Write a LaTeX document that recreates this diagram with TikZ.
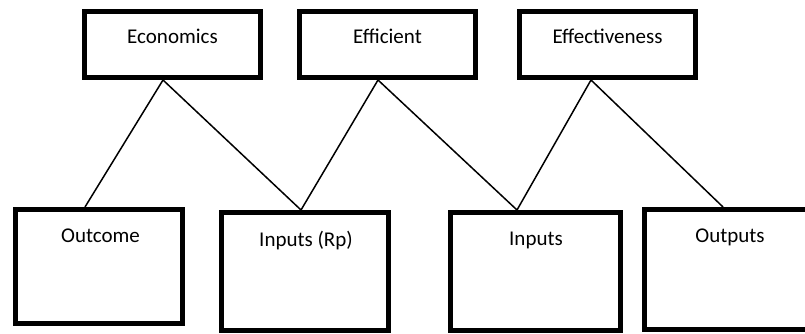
\documentclass[tikz,border=0pt]{standalone}
\usepackage{fontspec}
\setmainfont{Carlito}
\begin{document}
\begin{tikzpicture}[x=1pt,y=-1pt,
  box/.style={draw=black,line width=4.7pt,rectangle,inner sep=0pt,fill=white},
  lbl/.style={anchor=base,inner sep=0pt,font=\fontsize{21}{25}\selectfont},
  link/.style={draw=black,line width=1.5pt}]
\useasboundingbox (0,0) rectangle (805,334);
\clip (0,0) rectangle (805,334);
% top row
\node[box,minimum width=176.3pt,minimum height=66.3pt] (econ) at (172.5,44.5) {};
\node[box,minimum width=176.3pt,minimum height=66.3pt] (eff)  at (387.5,44.5) {};
\node[box,minimum width=176.3pt,minimum height=66.3pt] (effv) at (607.5,44.5) {};
% bottom row; the last box runs past the right edge
\node[box,minimum width=167.3pt,minimum height=114.3pt] (outc) at (99,266.5) {};
\node[box,minimum width=167.3pt,minimum height=118.3pt] (inrp) at (305,271.5) {};
\node[box,minimum width=170.3pt,minimum height=118.3pt] (inp)  at (535.5,271.5) {};
\node[box,minimum width=200pt,minimum height=120.3pt] (outp) at (744.35,269.5) {};
% labels
\node[lbl] (t-econ) at (172.5,44) {Economics};
\node[lbl] (t-eff)  at (387.5,44) {Efficient};
\node[lbl] (t-effv) at (607.5,44) {Effectiveness};
\node[lbl] (t-outc) at (100.5,242) {Outcome};
\node[lbl] (t-inrp) at (306,246) {Inputs (Rp)};
\node[lbl] (t-inp)  at (536,245) {Inputs};
\node[lbl] (t-outp) at (730,242) {Outputs};
% connectors
\draw[link] ([xshift=-9.5pt]econ.south) -- ([xshift=-14pt]outc.north);
\draw[link] ([xshift=-9.5pt]econ.south) -- ([xshift=-4pt]inrp.north);
\draw[link] ([xshift=-9.5pt]eff.south)  -- ([xshift=-4pt]inrp.north);
\draw[link] ([xshift=-9.5pt]eff.south)  -- ([xshift=-18.5pt]inp.north);
\draw[link] ([xshift=-16.5pt]effv.south) -- ([xshift=-18.5pt]inp.north);
\draw[link] ([xshift=-16.5pt]effv.south) -- ([xshift=-21.35pt]outp.north);
\end{tikzpicture}
\end{document}
